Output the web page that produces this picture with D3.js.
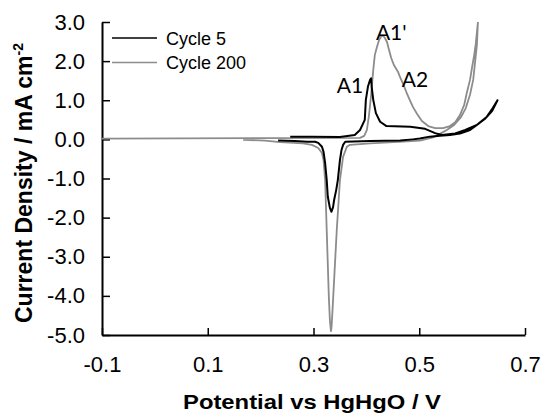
<!DOCTYPE html>
<html>
<head>
<meta charset="utf-8">
<script src="https://cdn.jsdelivr.net/npm/d3@7"></script>
<style>
  body { margin: 0; background: #fff; }
  svg { display: block; }
  .axis text { font-family: Arial, "Liberation Sans", sans-serif; font-size: 22px; fill: #000; }
  .axis path, .axis line { stroke: #000; }
</style>
</head>
<body>
<div id="chart"></div>
<script>
// Cycle 5 (black): potential (V) and current density (mA cm-2), anodic sweep then return
const cycle5Potential = [
  0.256, 0.297, 0.350, 0.378, 0.388, 0.397, 0.399, 0.403, 0.407, 0.409, 0.410, 0.413, 0.418, 0.426, 0.438,
  0.483, 0.511, 0.530, 0.543, 0.568, 0.587, 0.609, 0.624, 0.638, 0.648,
  0.639, 0.628, 0.611, 0.596, 0.577, 0.558, 0.539, 0.520, 0.501, 0.488, 0.464, 0.407, 0.360, 0.356, 0.353,
  0.350, 0.346, 0.343, 0.339, 0.337, 0.334, 0.331, 0.327, 0.325, 0.322, 0.319, 0.316, 0.309, 0.303, 0.288,
  0.265, 0.233
]
const cycle5Current = [
  0.07, 0.07, 0.06, 0.11, 0.24, 0.50, 1.01, 1.35, 1.52, 1.56, 1.35, 1.01, 0.67, 0.45, 0.34,
  0.32, 0.27, 0.16, 0.11, 0.15, 0.24, 0.37, 0.52, 0.73, 1.00,
  0.80, 0.58, 0.39, 0.24, 0.15, 0.11, 0.09, 0.07, 0.02, 0.00, -0.03, -0.04, -0.06, -0.14, -0.27,
  -0.53, -1.04, -1.29, -1.55, -1.73, -1.85, -1.75, -1.46, -1.04, -0.61, -0.32, -0.19, -0.09, -0.06, -0.06,
  -0.04, -0.03
]

// Cycle 200 (grey)
const cycle200Potential = [
  -0.100, 0.388, 0.396, 0.401, 0.405, 0.409, 0.413, 0.416, 0.420, 0.424, 0.428, 0.431, 0.435, 0.439, 0.443,
  0.447, 0.452, 0.460, 0.465, 0.471, 0.477, 0.482, 0.488, 0.496, 0.505, 0.517, 0.530, 0.545, 0.558, 0.568,
  0.577, 0.585, 0.590, 0.596, 0.600, 0.604, 0.607, 0.611,
  0.609, 0.605, 0.602, 0.596, 0.588, 0.579, 0.566, 0.552, 0.539, 0.526, 0.501, 0.469, 0.407, 0.369, 0.363,
  0.356, 0.350, 0.344, 0.339, 0.336, 0.334, 0.333, 0.331, 0.329, 0.325, 0.322, 0.319, 0.316, 0.309, 0.297,
  0.280, 0.237, 0.208, 0.167
]
const cycle200Current = [
  0.02, 0.04, 0.09, 0.24, 0.62, 1.14, 1.77, 2.16, 2.36, 2.54, 2.63, 2.66, 2.59, 2.49, 2.28,
  2.08, 1.90, 1.72, 1.55, 1.37, 1.16, 1.01, 0.83, 0.65, 0.47, 0.34, 0.29, 0.29, 0.34, 0.44,
  0.62, 0.88, 1.19, 1.52, 1.85, 2.16, 2.46, 3.00,
  2.41, 1.90, 1.52, 1.14, 0.80, 0.57, 0.37, 0.24, 0.14, 0.05, -0.03, -0.06, -0.10, -0.14, -0.19,
  -0.44, -1.04, -2.32, -3.59, -4.36, -4.82, -4.90, -4.62, -4.02, -2.32, -1.04, -0.53, -0.35, -0.22, -0.14,
  -0.10, -0.07, -0.03, -0.01
]

const xTicks = [-0.1, 0.1, 0.3, 0.5, 0.7]
const yTicks = [-5, -4, -3, -2, -1, 0, 1, 2, 3]
const seriesNames = ['Cycle 5', 'Cycle 200']
const seriesColors = ['#000000', '#8c8c8c']
const peakLabels = ['A1', "A1'", 'A2']
const peakLabelPotential = [0.344, 0.418, 0.467]
const peakLabelCurrent = [1.19, 2.54, 1.34]

const W = 541, H = 414
const margin = { top: 22, right: 16, bottom: 79, left: 102 }
const width = W - margin.left - margin.right
const height = H - margin.top - margin.bottom

const svg = d3.select('#chart').append('svg').attr('width', W).attr('height', H)
const g = svg.append('g').attr('transform', 'translate(' + margin.left + ',' + margin.top + ')')

const x = d3.scaleLinear().domain([-0.1, 0.7]).range([0, width])
const y = d3.scaleLinear().domain([-5, 3]).range([height, 0])

g.append('clipPath').attr('id', 'plot-clip')
  .append('rect').attr('x', 0).attr('y', 0).attr('width', width).attr('height', height)

// axes
g.append('g')
  .attr('class', 'axis')
  .attr('transform', 'translate(0,' + height + ')')
  .call(d3.axisBottom(x).tickValues(xTicks).tickSizeInner(-7).tickSizeOuter(0).tickPadding(21)
    .tickFormat(d => d.toFixed(1)))
  .call(a => a.select('.domain').attr('stroke-width', 2))
  .call(a => a.selectAll('line').attr('stroke-width', 1.5))

g.append('g')
  .attr('class', 'axis')
  .call(d3.axisLeft(y).tickValues(yTicks).tickSizeInner(-8).tickSizeOuter(0).tickPadding(17)
    .tickFormat(d => d.toFixed(1)))
  .call(a => a.select('.domain').attr('stroke-width', 2))
  .call(a => a.selectAll('line').attr('stroke-width', 1.5))

// curves
const line = d3.line().x(d => x(d[0])).y(d => y(d[1]))
const series = [
  d3.zip(cycle200Potential, cycle200Current),
  d3.zip(cycle5Potential, cycle5Current)
]
const seriesIdx = [1, 0]

g.append('g').attr('clip-path', 'url(#plot-clip)')
  .selectAll('path')
  .data(series)
  .join('path')
  .attr('d', line)
  .attr('fill', 'none')
  .attr('stroke', (d, i) => seriesColors[seriesIdx[i]])
  .attr('stroke-width', (d, i) => seriesIdx[i] === 0 ? 2 : 1.8)
  .attr('stroke-linejoin', 'round')

// peak labels
g.selectAll('.peak')
  .data(peakLabels)
  .join('text')
  .attr('class', 'peak')
  .attr('x', (d, i) => x(peakLabelPotential[i]))
  .attr('y', (d, i) => y(peakLabelCurrent[i]))
  .style('font-family', 'Lato, "Open Sans", sans-serif')
  .style('font-size', '21px')
  .attr('fill', '#000')
  .text(d => d)

// legend
const legend = svg.append('g').attr('transform', 'translate(112,38)')
seriesNames.forEach((name, i) => {
  const row = legend.append('g').attr('transform', 'translate(0,' + i * 24.5 + ')')
  row.append('line').attr('x1', 0).attr('x2', 45).attr('y1', 0).attr('y2', 0)
    .attr('stroke', seriesColors[i]).attr('stroke-width', i === 0 ? 1.6 : 1.3)
  row.append('text').attr('x', 54).attr('y', 6.5)
    .style('font-family', 'Arial, "Liberation Sans", sans-serif')
    .style('font-size', '18px')
    .text(name)
})

// axis titles
svg.append('text')
  .attr('x', 312).attr('y', 409)
  .attr('text-anchor', 'middle')
  .attr('textLength', 258).attr('lengthAdjust', 'spacingAndGlyphs')
  .style('font-family', 'Arial, "Liberation Sans", sans-serif')
  .style('font-size', '20.5px')
  .style('font-weight', 'bold')
  .text('Potential vs HgHgO / V')

const yTitle = svg.append('text')
  .attr('transform', 'translate(31.5,183) rotate(-90)')
  .attr('text-anchor', 'middle')
  .style('font-family', 'Arial, "Liberation Sans", sans-serif')
  .style('font-size', '23px')
  .style('font-weight', 'bold')
yTitle.append('tspan').text('Current Density / mA cm')
yTitle.append('tspan').attr('dy', -9).style('font-size', '14px').text('-2')
</script>
</body>
</html>
